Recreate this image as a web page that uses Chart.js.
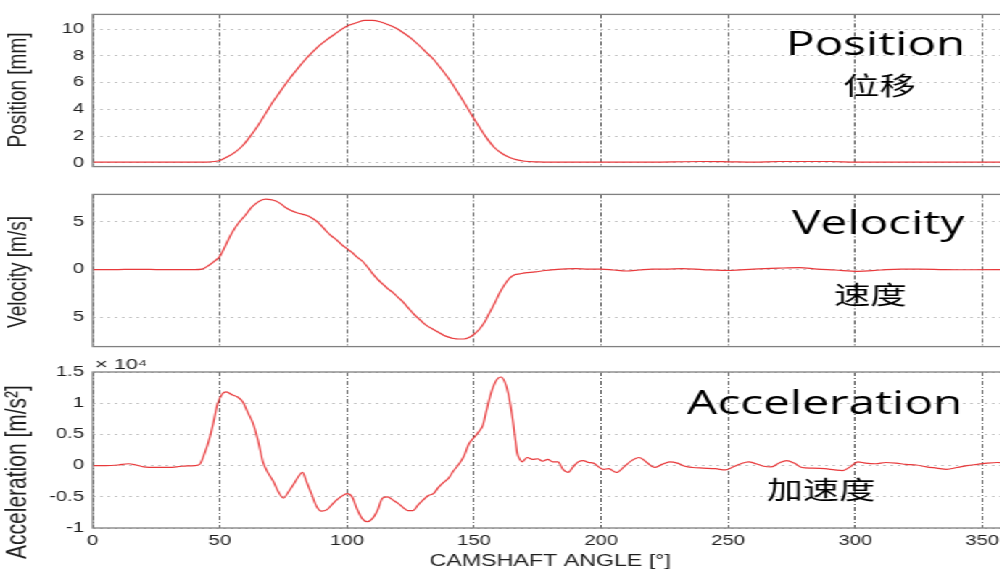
<!DOCTYPE html>
<html>
<head>
<meta charset="utf-8">
<script src="https://cdn.jsdelivr.net/npm/chart.js@4.4.0/dist/chart.umd.min.js"></script>
<style>
  html, body { margin: 0; padding: 0; background: #fff; overflow: hidden; width: 1000px; height: 571px; }
  #wrap { position: absolute; left: 0; top: 0; width: 696px; height: 571px; transform: scaleX(1.45); transform-origin: 0 0; }
  .panel { position: absolute; left: 0; width: 696px; }
</style>
</head>
<body>
<div id="wrap">
  <div class="panel" style="top:0;height:181px"><canvas id="posChart"></canvas></div>
  <div class="panel" style="top:180px;height:181px"><canvas id="velChart"></canvas></div>
  <div class="panel" style="top:355px;height:216px"><canvas id="accChart"></canvas></div>
</div>
<script>
// camshaft angle [deg] / values
const posAngles = [0, 10, 20, 30, 40, 45, 48, 50, 53, 56, 59, 62, 65, 68, 71, 74, 77, 80, 83, 86, 89, 92, 95, 98,
  101, 104, 107, 110, 113, 116, 119, 122, 125, 128, 131, 134, 137, 140, 143, 146, 149, 152, 155, 158, 161, 164,
  167, 170, 175, 180, 200, 220, 240, 250, 260, 270, 290, 300, 320, 340, 360];
const posValues = [0.05, 0.05, 0.05, 0.05, 0.05, 0.06, 0.1, 0.18, 0.45, 0.8, 1.3, 2.0, 2.8, 3.7, 4.6, 5.4, 6.2, 6.9, 7.6, 8.2, 8.75, 9.2, 9.6, 10.0,
  10.3, 10.5, 10.65, 10.65, 10.55, 10.35, 10.1, 9.75, 9.35, 8.85, 8.3, 7.75, 7.05, 6.3, 5.45, 4.55, 3.6, 2.7, 1.85, 1.15, 0.7, 0.4,
  0.22, 0.12, 0.07, 0.05, 0.05, 0.06, 0.1, 0.08, 0.05, 0.1, 0.1, 0.05, 0.05, 0.06, 0.05];

const velAngles = [0, 10, 15, 20, 25, 30, 35, 40, 43, 46, 48, 50, 52, 54, 56, 58, 60, 62, 64, 66, 68, 70, 72, 74, 76, 78,
  80, 82, 84, 86, 88, 90, 92, 94, 96, 98, 100, 102, 104, 106, 108, 110, 112, 114, 116, 118, 120, 122, 124, 126, 128,
  130, 132, 134, 136, 138, 140, 142, 144, 146, 148, 150, 152, 154, 156, 158, 160, 162, 164, 166, 168, 170, 174, 178,
  182, 186, 190, 195, 200, 205, 210, 215, 220, 225, 232, 240, 251, 260, 270, 278, 285, 292, 301, 310, 318, 325, 335, 345, 360];
const velValues = [0, 0, 0.02, 0.02, 0, 0, 0, 0, 0.05, 0.5, 0.9, 1.4, 2.4, 3.5, 4.4, 5.1, 5.7, 6.4, 6.9, 7.25, 7.4, 7.35, 7.2, 6.9, 6.5, 6.2,
  6.0, 5.85, 5.7, 5.45, 5.1, 4.6, 4.0, 3.5, 3.1, 2.6, 2.2, 1.8, 1.3, 0.9, 0.3, -0.4, -1.0, -1.5, -2.0, -2.4, -2.9, -3.4, -4.0, -4.6, -5.1,
  -5.6, -6.0, -6.3, -6.6, -6.9, -7.1, -7.25, -7.3, -7.3, -7.15, -6.8, -6.3, -5.6, -4.6, -3.6, -2.5, -1.6, -0.9, -0.55, -0.45, -0.35, -0.25, -0.1,
  0.0, 0.08, 0.1, 0.05, 0.05, -0.05, -0.15, -0.05, 0.05, 0.05, 0.1, 0.0, -0.1, 0.05, 0.15, 0.2, 0.05, -0.05, -0.2, -0.05, 0.05, 0.05, 0.0, -0.02, 0];

// acceleration in units of 1e4 m/s^2
const accAngles = [0, 5, 10, 14, 17, 20, 25, 30, 35, 40, 42, 44, 46, 47.5, 49, 51, 52.5, 55, 57, 59, 61, 63, 65, 67, 69, 71, 73, 75,
  77, 79, 81, 82.5, 84, 86, 88, 90, 92, 94, 96, 98, 100, 102, 104, 106, 108, 110, 112, 114, 116, 118, 120, 122, 124, 126,
  128, 130, 132, 134, 136, 138, 140, 142, 144, 146, 148, 150, 152, 153.5, 155, 157, 159, 160.5, 162, 163.5, 165, 166, 167,
  168, 169, 170, 171, 173, 175, 177, 179, 181, 183, 185, 187, 189, 191, 193, 195, 197, 199, 201, 203, 206, 209, 212, 215,
  218, 221, 224, 227, 230, 233, 236, 240, 245, 249, 252, 255, 258, 261, 264, 267, 270, 273, 276, 279, 283, 288, 292, 295,
  298, 301, 304, 308, 312, 316, 320, 324, 328, 332, 336, 340, 344, 348, 352, 356, 360];
const accValues = [0, 0, 0.01, 0.03, 0.01, -0.02, -0.03, -0.03, -0.01, 0.0, 0.02, 0.2, 0.45, 0.7, 0.98, 1.15, 1.18, 1.13, 1.1, 1.02, 0.85, 0.68, 0.4, 0.05, -0.12, -0.25, -0.42, -0.52,
  -0.42, -0.3, -0.17, -0.11, -0.25, -0.45, -0.65, -0.73, -0.71, -0.63, -0.55, -0.49, -0.45, -0.5, -0.7, -0.85, -0.9, -0.85, -0.72, -0.52, -0.5, -0.55, -0.6, -0.67, -0.72, -0.72,
  -0.63, -0.55, -0.48, -0.45, -0.35, -0.27, -0.2, -0.08, 0.02, 0.15, 0.35, 0.45, 0.55, 0.65, 0.9, 1.2, 1.38, 1.42, 1.35, 1.15, 0.8, 0.5, 0.2,
  0.1, 0.06, 0.1, 0.13, 0.1, 0.11, 0.07, 0.1, 0.06, 0.06, -0.06, -0.11, -0.02, 0.06, 0.08, 0.05, 0.04, -0.02, -0.06, -0.05, -0.11, -0.02, 0.08, 0.13,
  0.05, -0.03, 0.02, 0.06, 0.04, -0.01, -0.03, -0.04, -0.05, -0.07, -0.02, 0.03, 0.06, 0.03, -0.01, -0.02, 0.04, 0.08, 0.04, -0.03, -0.04, -0.05, -0.07, -0.08,
  -0.02, 0.06, 0.04, 0.03, 0.05, 0.04, 0.02, 0.01, -0.02, -0.04, -0.06, -0.03, 0.0, 0.02, 0.04, 0.05, 0.04];

const angleTicks = [0, 50, 100, 150, 200, 250, 300, 350];
const posTicks = [0, 2, 4, 6, 8, 10];
const posTickLabels = ['0', '2', '4', '6', '8', '10'];
const velTicks = [-5, 0, 5];
const velTickLabels = ['5', '0', '5'];
const accTicks = [-1, -0.5, 0, 0.5, 1, 1.5];
const accTickLabels = ['-1', '-0.5', '0', '0.5', '1', '1.5'];

const tickFont = { family: 'Liberation Sans, Arial, sans-serif', size: 14 };
const textColor = '#1e1e1e';

const panelDecor = {
  id: 'panelDecor',
  afterDraw(chart, args, opts) {
    const { ctx, chartArea: a, scales } = chart;
    ctx.save();
    ctx.strokeStyle = '#808080';
    ctx.lineWidth = 1.3;
    ctx.strokeRect(a.left, a.top, a.right - a.left, a.bottom - a.top);
    (opts.notes || []).forEach(n => {
      ctx.font = n.font;
      ctx.fillStyle = n.color || '#000';
      ctx.textAlign = n.align || 'center';
      ctx.textBaseline = 'middle';
      const x = n.angle !== undefined ? scales.x.getPixelForValue(n.angle) : n.px;
      const y = n.value !== undefined ? scales.y.getPixelForValue(n.value) : n.py;
      if (n.rotate) {
        ctx.save();
        ctx.translate(x, y);
        ctx.rotate(-Math.PI / 2);
        ctx.fillText(n.text, 0, 0);
        ctx.restore();
      } else {
        ctx.fillText(n.text, x, y);
      }
    });
    ctx.restore();
  }
};

function makePanel(id, cfg) {
  const pts = cfg.angles.map((a, i) => ({ x: a, y: cfg.values[i] }));
  new Chart(document.getElementById(id), {
    type: 'line',
    data: {
      datasets: [{
        data: pts,
        borderColor: '#e8393b',
        borderWidth: 1.2,
        pointRadius: 0,
        cubicInterpolationMode: 'monotone',
        fill: false
      }]
    },
    options: {
      responsive: true,
      maintainAspectRatio: false,
      animation: false,
      layout: { padding: { top: cfg.padTop, bottom: cfg.padBottom, left: 0, right: 1 } },
      plugins: {
        legend: { display: false },
        tooltip: { enabled: false },
        panelDecor: { notes: cfg.notes }
      },
      scales: {
        x: {
          type: 'linear',
          min: 0,
          max: 360,
          afterBuildTicks: s => { s.ticks = angleTicks.map(v => ({ value: v })); },
          afterFit: s => { s.height = cfg.xHeight; },
          ticks: { display: cfg.showX, font: tickFont, color: textColor, padding: 5, maxRotation: 0, autoSkip: false },
          grid: { color: 'rgba(60,60,60,0.85)', lineWidth: 1, drawTicks: false },
          border: { display: false, dash: [4, 2, 1, 2] },
          title: {
            display: cfg.showX,
            text: 'CAMSHAFT ANGLE [°]',
            font: { family: 'Liberation Sans, Arial, sans-serif', size: 16 },
            color: textColor,
            padding: { top: 2, bottom: 0 }
          }
        },
        y: {
          min: cfg.yMin,
          max: cfg.yMax,
          afterBuildTicks: s => { s.ticks = cfg.ticks.map(v => ({ value: v })); },
          afterFit: s => { s.width = 64; },
          ticks: { callback: (v, i) => cfg.tickLabels[i], font: tickFont, color: textColor, padding: 6 },
          grid: { color: '#c4c4c4', lineWidth: 1, drawTicks: false },
          border: { display: false, dash: [2, 3] }
        }
      }
    },
    plugins: [panelDecor]
  });
}

const bigFont = '33px "Open Sans", sans-serif';
const cjkFont = '25px "Noto Sans CJK SC", sans-serif';
const sideFont = '19px "Liberation Sans Narrow", "Liberation Sans", sans-serif';

makePanel('posChart', {
  angles: posAngles, values: posValues, yMin: -0.28, yMax: 11.1,
  ticks: posTicks, tickLabels: posTickLabels, showX: false,
  padTop: 10, padBottom: 9, xHeight: 0,
  notes: [
    { text: 'Position', angle: 308, value: 8.8, font: bigFont },
    { text: '位移', angle: 309.5, value: 5.8, font: cjkFont },
    { text: 'Position [mm]', px: 12.5, py: 90, rotate: true, font: sideFont, color: textColor }
  ]
});

makePanel('velChart', {
  angles: velAngles, values: velValues, yMin: -8.1, yMax: 7.9,
  ticks: velTicks, tickLabels: velTickLabels, showX: false,
  padTop: 10, padBottom: 9, xHeight: 0,
  notes: [
    { text: 'Velocity', angle: 309, value: 4.75, font: bigFont },
    { text: '速度', angle: 306, value: -2.6, font: cjkFont },
    { text: 'Velocity [m/s]', px: 12.5, py: 92, rotate: true, font: sideFont, color: textColor }
  ]
});

makePanel('accChart', {
  angles: accAngles, values: accValues, yMin: -1, yMax: 1.5,
  ticks: accTicks, tickLabels: accTickLabels, showX: true,
  padTop: 17, padBottom: 0, xHeight: 43,
  notes: [
    { text: 'Acceleration', angle: 288, value: 0.98, font: bigFont },
    { text: '加速度', angle: 286.5, value: -0.38, font: cjkFont },
    { text: '× 10⁴', px: 65.5, py: 10, align: 'left', font: '15px "Liberation Sans", "DejaVu Sans", sans-serif', color: textColor },
    { text: 'Acceleration [m/s²]', px: 12.5, py: 117, rotate: true, font: '21px "Liberation Sans Narrow", "Liberation Sans", sans-serif', color: textColor }
  ]
});
</script>
</body>
</html>
